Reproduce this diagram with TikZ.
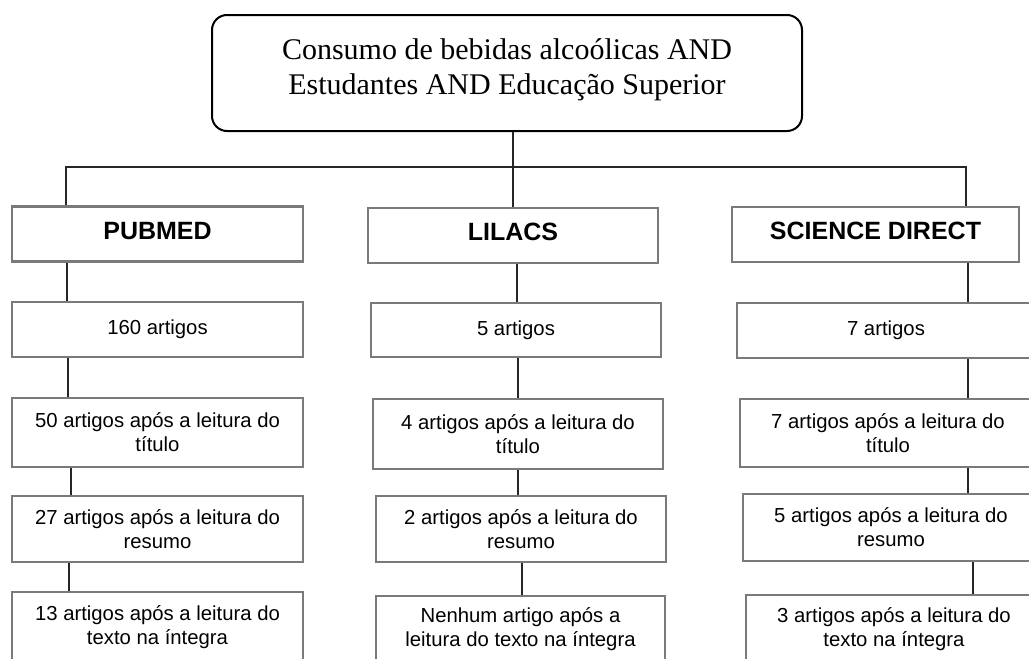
\documentclass[tikz,border=0pt]{standalone}
\usepackage{fontspec}
\setmainfont{Liberation Serif}
\newfontfamily\arialf{Liberation Sans}
\begin{document}
\begin{tikzpicture}[x=1pt,y=-1pt,
  topbox/.style={draw=black,line width=2pt,rounded corners=15pt,minimum width=590pt,minimum height=116pt,inner sep=0pt},
  dbbox/.style={draw=boxgray,line width=2.6pt,minimum height=55pt,inner sep=0pt,text height=18pt,text depth=8pt,font=\arialf\bfseries\fontsize{25}{30}\selectfont,align=center},
  stepbox/.style={draw=boxgray,line width=2.6pt,inner sep=0pt,font=\arialf\fontsize{20.3}{24}\selectfont,align=center},
  conn/.style={draw=linegray,line width=1.3pt}]
\definecolor{boxgray}{HTML}{7A7A7A}
\definecolor{linegray}{HTML}{262626}
\useasboundingbox (0,0) rectangle (1029,659);
\clip (0,0) rectangle (1029,659);
\fill[white] (0,0) rectangle (1029,659);

% top box
\node[topbox,label={[font=\fontsize{30}{35}\selectfont,align=center,yshift=3pt]center:Consumo de bebidas alcoólicas AND\\Estudantes AND Educação Superior}] (top) at (507,73) {};

% database headers
\node[dbbox,minimum width=291pt] (pub) at (157.5,234) {PUBMED};
\node[dbbox,minimum width=290pt] (lil) at (513,235.5) {LILACS};
\node[dbbox,minimum width=287pt] (sd) at (875.5,234.5) {SCIENCE DIRECT};

% PUBMED column
\node[stepbox,minimum width=291pt,minimum height=55pt] (p1) at (157.5,329.5) {160 artigos};
\node[stepbox,minimum width=291pt,minimum height=69pt] (p2) at (157.5,432.5) {50 artigos após a leitura do\\título};
\node[stepbox,minimum width=291pt,minimum height=66pt] (p3) at (157.5,529) {27 artigos após a leitura do\\resumo};
\node[stepbox,minimum width=291pt,minimum height=71pt] (p4) at (157.5,627.5) {13 artigos após a leitura do\\texto na íntegra};

% LILACS column
\node[stepbox,minimum width=290pt,minimum height=54pt] (l1) at (516,330) {5 artigos};
\node[stepbox,minimum width=290pt,minimum height=70pt] (l2) at (518,434) {4 artigos após a leitura do\\título};
\node[stepbox,minimum width=290pt,minimum height=66pt] (l3) at (521,529) {2 artigos após a leitura do\\resumo};
\node[stepbox,minimum width=289pt,minimum height=67pt] (l4) at (520.5,629.5) {Nenhum artigo após a\\leitura do texto na íntegra};

% SCIENCE DIRECT column
\node[stepbox,minimum width=298pt,minimum height=55pt] (s1) at (886,330.5) {7 artigos};
\node[stepbox,minimum width=296pt,minimum height=68pt] (s2) at (888,433) {7 artigos após a leitura do\\título};
\node[stepbox,minimum width=296pt,minimum height=67pt] (s3) at (891,527.5) {5 artigos após a leitura do\\resumo};
\node[stepbox,minimum width=296pt,minimum height=68pt] (s4) at (894,629) {3 artigos após a leitura do\\texto na íntegra};

% connector coordinates
\coordinate (bus) at (0,167);
\coordinate (xp) at (66,0);
\coordinate (xl) at (513,0);
\coordinate (xs) at (966,0);

% tree from top
\draw[conn] (top.south -| lil.north) -- (lil.north);
\draw[conn] (pub.north -| xp) |- (bus -| xl) -- (bus -| xs) -- (sd.north -| xs);

% column connectors
\coordinate (c1) at (67,0);
\coordinate (c2) at (68,0);
\coordinate (c3) at (71,0);
\coordinate (c4) at (69,0);
\draw[conn] (pub.south -| c1) -- (p1.north -| c1);
\draw[conn] (p1.south -| c2) -- (p2.north -| c2);
\draw[conn] (p2.south -| c3) -- (p3.north -| c3);
\draw[conn] (p3.south -| c4) -- (p4.north -| c4);

\coordinate (d1) at (517,0);
\coordinate (d2) at (518,0);
\coordinate (d3) at (522,0);
\draw[conn] (lil.south -| d1) -- (l1.north -| d1);
\draw[conn] (l1.south -| d2) -- (l2.north -| d2);
\draw[conn] (l2.south -| d2) -- (l3.north -| d2);
\draw[conn] (l3.south -| d3) -- (l4.north -| d3);

\coordinate (e1) at (968,0);
\coordinate (e2) at (973,0);
\draw[conn] (sd.south -| e1) -- (s1.north -| e1);
\draw[conn] (s1.south -| e1) -- (s2.north -| e1);
\draw[conn] (s2.south -| e1) -- (s3.north -| e1);
\draw[conn] (s3.south -| e2) -- (s4.north -| e2);
\end{tikzpicture}
\end{document}
